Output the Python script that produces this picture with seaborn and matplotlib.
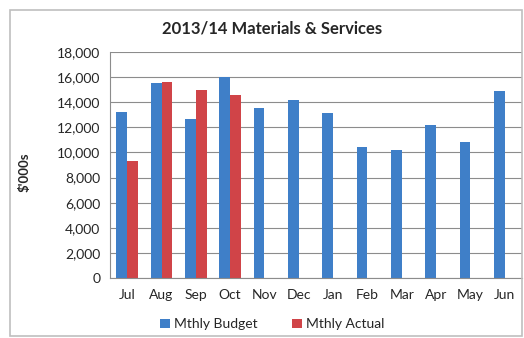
import matplotlib
matplotlib.use("Agg")
import matplotlib.pyplot as plt
import seaborn as sns
import pandas as pd
import numpy as np
from matplotlib.patches import Rectangle
from matplotlib.ticker import FuncFormatter

months = ["Jul", "Aug", "Sep", "Oct", "Nov", "Dec", "Jan", "Feb", "Mar", "Apr", "May", "Jun"]
budget = [13200, 15550, 12700, 16000, 13550, 14150, 13150, 10450, 10200, 12200, 10850, 14900]
actual = [9300, 15600, 15000, 14600, np.nan, np.nan, np.nan, np.nan, np.nan, np.nan, np.nan, np.nan]
series = ["Mthly Budget", "Mthly Actual"]
colors = ["#3F7FC8", "#D04448"]

df = pd.DataFrame({
    "Month": months * 2,
    "Value": budget + actual,
    "Series": [series[0]] * len(months) + [series[1]] * len(months),
})

sns.set_theme(style="white")
plt.rcParams["font.family"] = ["Lato", "DejaVu Sans"]

fig = plt.figure(figsize=(5.24, 3.38), dpi=100)
ax = fig.add_axes([0.21, 0.1775, 0.786, 0.6685])

sns.barplot(data=df, x="Month", y="Value", hue="Series", order=months,
            hue_order=series, palette=colors, width=0.63, ax=ax,
            saturation=1, legend=True, linewidth=0, gap=0)

ax.set_ylim(0, 18000)
ax.set_yticks(range(0, 18001, 2000))
ax.yaxis.set_major_formatter(FuncFormatter(lambda v, p: f"{int(v):,}"))
ax.grid(axis="y", color="#8c8c8c", linewidth=0.8)
ax.set_axisbelow(True)
for s in ["top", "right"]:
    ax.spines[s].set_visible(False)
for s in ["left", "bottom"]:
    ax.spines[s].set_color("#8c8c8c")
    ax.spines[s].set_linewidth(0.8)

ax.set_xlim(-0.5, len(months) - 0.5)
ax.set_xticks(np.arange(-0.5, len(months), 1.0), minor=True)
ax.tick_params(axis="x", which="major", length=0, labelsize=10, pad=8)
ax.tick_params(axis="x", which="minor", length=4, color="#8c8c8c", direction="out")
ax.tick_params(axis="y", which="major", length=4, color="#8c8c8c", labelsize=10, pad=3, direction="out")
ax.set_xlabel("")
ax.set_ylabel("")
fig.text(0.046, 0.49, "$'000s", rotation=90, ha="center", va="center",
         fontsize=9.5, fontweight="bold")

fig.text(0.52, 0.915, "2013/14 Materials & Services", ha="center", va="center",
         fontsize=12, fontweight="bold")

handles, labels = ax.get_legend_handles_labels()
ax.legend_.remove()
fig.legend(handles, labels, loc="center", bbox_to_anchor=(0.52, 0.04), ncol=2,
           frameon=False, fontsize=10, handlelength=0.7, handleheight=0.7,
           handletextpad=0.3, columnspacing=2.5)

fig.patches.append(Rectangle((0.019, 0.005), 0.978, 0.965, transform=fig.transFigure,
                             fill=False, edgecolor="#bfbfbf", linewidth=1.2))

fig.savefig("out.png", dpi=100)
